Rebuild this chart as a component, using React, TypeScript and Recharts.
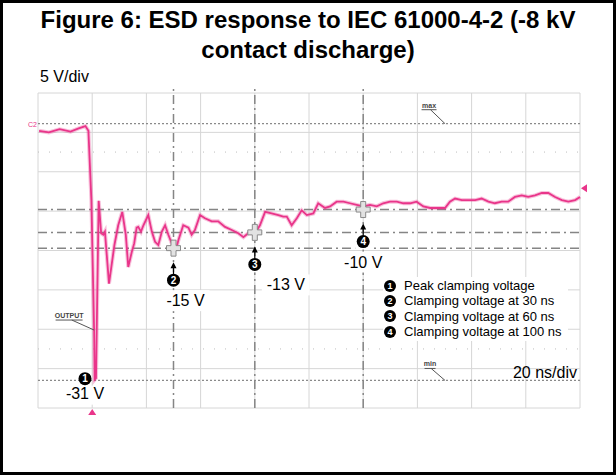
import { LineChart, Line, XAxis, YAxis, CartesianGrid, ReferenceLine, ReferenceDot } from "recharts";

// scope grid: 20 ns/div, 5 V/div
const TIME_TICKS = [-20, 0, 20, 40, 60, 80, 100, 120, 140, 160, 180];
const VOLT_TICKS = [5, 0, -5, -10, -15, -20, -25, -30, -35];

// trace (ns, V)
const TIMES = [
  -19.6, -16, -12, -8, -5, -2.5, -1.4, -0.3, 0.7, 0.9, 1.4, 2.4, 3.3, 4.1, 4.7, 6.2, 8.2, 9.6, 11.1, 12.4,
  13.3, 14.6, 15.5, 16.4, 17.0, 18.0, 18.9, 20.7, 22.0, 23.2, 24.4, 25.7, 26.9, 28.1, 29.6, 31.2, 31.8, 33.6,
  35.5, 36.7, 37.9, 39.8, 41.6, 44.1, 46.5, 49.0, 51.5, 53.9, 55.8, 57.6, 60.1, 61.9, 63.8, 66.2, 68.7, 70.5,
  71.8, 73.6, 75.5, 77.3, 79.2, 81.6, 83.4, 85.9, 87.8, 90.2, 92.7, 95.1, 97.6, 100.0, 102.5, 105.0, 107.4,
  109.9, 112.4, 114.8, 117.3, 119.7, 122.2, 124.7, 127.7, 130.2, 132.0, 133.9, 136.4, 138.8, 141.3, 143.7,
  146.2, 148.6, 151.1, 153.5, 156.0, 158.5, 160.9, 163.4, 165.9, 168.3, 170.8, 173.3, 175.7, 178.2, 180,
];
const VOLTS = [
  0.2, 0.0, 0.4, 0.1, 0.5, 0.8, 0.2, -8.6, -25.1, -31.4, -31.2, -8.7, -12.8, -13.0, -12.6, -19.2, -14.3, -11.8,
  -10.1, -13.0, -17.1, -15.2, -14.1, -12.1, -12.0, -12.6, -11.8, -10.5, -12.6, -13.9, -14.3, -12.6, -11.8,
  -13.0, -14.3, -14.5, -13.7, -11.8, -12.1, -13.0, -12.4, -10.5, -10.9, -11.3, -11.3, -12.0, -12.4, -12.8,
  -13.3, -12.8, -12.8, -11.8, -10.1, -10.3, -10.5, -10.7, -10.7, -11.8, -10.9, -9.9, -10.5, -10.3, -9.0,
  -9.6, -9.4, -8.8, -8.8, -9.0, -9.2, -9.4, -9.2, -9.4, -9.0, -8.8, -8.8, -9.0, -9.0, -8.8, -9.4, -9.6,
  -9.6, -9.6, -8.8, -8.4, -8.6, -8.6, -8.6, -8.4, -8.8, -9.0, -8.8, -8.8, -8.2, -8.0, -8.2, -8.0, -7.7,
  -7.7, -8.2, -8.6, -8.8, -8.6, -8.2,
];

// cursors
const CURSOR_TIMES = [30, 60, 100];
const CURSOR_VOLTS = [-14.7, -12.7, -9.8];
const CURSOR_NUMS = ["2", "3", "4"];
const CURSOR_LABELS = ["-15 V", "-13 V", "-10 V"];
const PEAK_TIME = 0.85;
const PEAK_VOLT = -31.4;
const PEAK_LABEL = "-31 V";

const MAX_LEVEL = 1.1;
const MIN_LEVEL = -31.5;
const TRIG_LEVEL = -7.1;
const OUTPUT_TIME = 0.7;
const OUTPUT_VOLT = -25.1;
const MARK_TIME = 130.2;

const LEGEND_ITEMS = [
  "Peak clamping voltage",
  "Clamping voltage at 30 ns",
  "Clamping voltage at 60 ns",
  "Clamping voltage at 100 ns",
];

const traceData = TIMES.map((t, i) => ({ t, v: VOLTS[i] }));

const FONT = "'Liberation Sans', Arial, sans-serif";
const PINK = "#e9358a";
const CURSOR_GRAY = "#858585";
const LABEL_DX = [12, 31, 0];

const plusPath = (cx: number, cy: number) =>
  `M${cx - 2.5},${cy - 8} H${cx + 2.5} V${cy - 2.5} H${cx + 7} V${cy + 2.5} H${cx + 2.5} V${cy + 8} H${cx - 2.5} V${cy + 2.5} H${cx - 7} V${cy - 2.5} H${cx - 2.5} Z`;

const CursorMark = (props: any) => {
  const { cx, cy, num, label, dx } = props;
  return (
    <g fontFamily={FONT}>
      <rect x={cx + dx - 24} y={cy + 42} width={48} height={21} fill="#fff" />
      <rect x={cx - 8} y={cy + 24} width={16} height={16} fill="#fff" />
      <path d={plusPath(cx, cy)} fill="#e2e2e2" stroke="#8a8a8a" strokeWidth={1} />
      <line x1={cx} y1={cy + 17} x2={cx} y2={cy + 26} stroke="#000" strokeWidth={1.2} />
      <path d={`M${cx - 3},${cy + 20} L${cx},${cy + 14} L${cx + 3},${cy + 20} Z`} fill="#000" />
      <circle cx={cx} cy={cy + 32} r={6.5} fill="#000" />
      <text x={cx} y={cy + 35.5} textAnchor="middle" fill="#fff" fontSize={10} fontWeight="bold">
        {num}
      </text>
      <text x={cx + dx} y={cy + 58} textAnchor="middle" fontSize={16} fill="#000">
        {label}
      </text>
    </g>
  );
};

const PeakMark = (props: any) => {
  const { cx, cy } = props;
  return (
    <g fontFamily={FONT}>
      <rect x={cx - 32} y={cy + 6} width={44} height={19} fill="#fff" />
      <circle cx={cx - 9.5} cy={cy - 1} r={6.5} fill="#000" />
      <text x={cx - 9.5} y={cy + 2.5} textAnchor="middle" fill="#fff" fontSize={10} fontWeight="bold">
        1
      </text>
      <text x={cx - 9.5} y={cy + 19.5} textAnchor="middle" fontSize={16} fill="#000">
        {PEAK_LABEL}
      </text>
    </g>
  );
};

// small underlined scope tag with a leader line to the anchor point
const Tag = (props: any) => {
  const { cx, cy, text, tx, ty, w } = props;
  return (
    <g fontFamily={FONT}>
      <text x={cx + tx} y={cy + ty} fontSize={7} fill="#444" fontWeight="bold" textAnchor="middle">
        {text}
      </text>
      <line x1={cx + tx - w / 2} y1={cy + ty + 2} x2={cx + tx + w / 2} y2={cy + ty + 2} stroke="#555" strokeWidth={1} />
      <line x1={cx + tx + w * 0.1} y1={cy + ty + 2} x2={cx} y2={cy} stroke="#555" strokeWidth={1} />
    </g>
  );
};

const TriangleUp = (props: any) => {
  const { cx, cy } = props;
  return <path d={`M${cx},${cy + 1} L${cx + 4},${cy + 7} L${cx - 4},${cy + 7} Z`} fill={PINK} />;
};

const TriangleLeft = (props: any) => {
  const { cx, cy } = props;
  return <path d={`M${cx + 1},${cy} L${cx + 7},${cy - 4} L${cx + 7},${cy + 4} Z`} fill={PINK} />;
};

export default function App() {
  return (
    <div style={{ position: "absolute", left: 0, top: 0, width: 616, height: 475, background: "#fff", fontFamily: FONT }}>
      <div style={{ position: "absolute", left: 0, top: 0 }}>
        <LineChart width={616} height={475} data={traceData} margin={{ top: 93, right: 36, bottom: 67, left: 38 }}>
          <XAxis dataKey="t" type="number" domain={[-20, 180]} ticks={TIME_TICKS} hide />
          <YAxis type="number" domain={[-35, 5]} ticks={VOLT_TICKS} hide />
          <CartesianGrid stroke="#d6d6d6" strokeWidth={1} />
          <ReferenceLine y={-2.5} stroke="#bdbdbd" strokeDasharray="1 10" />
          <ReferenceLine y={-27.5} stroke="#bdbdbd" strokeDasharray="1 10" />
          <ReferenceLine y={MAX_LEVEL} stroke="#8a8a8a" strokeDasharray="2 2" strokeWidth={1.3} />
          <ReferenceLine y={MIN_LEVEL} stroke="#8a8a8a" strokeDasharray="2 2" strokeWidth={1.3} />
          {CURSOR_VOLTS.map((v) => (
            <ReferenceLine key={`h${v}`} y={v} stroke={CURSOR_GRAY} strokeWidth={1.5} strokeDasharray="9 4 2 4" />
          ))}
          {CURSOR_TIMES.map((t) => (
            <ReferenceLine
              key={`v${t}`}
              segment={[{ x: t, y: -35 }, { x: t, y: 5.6 }]}
              ifOverflow="visible"
              stroke={CURSOR_GRAY}
              strokeWidth={1.5}
              strokeDasharray="9 4 2 4"
            />
          ))}
          <Line dataKey="v" stroke={PINK} strokeOpacity={0.3} strokeWidth={4} dot={false} isAnimationActive={false} />
          <Line dataKey="v" stroke={PINK} strokeWidth={1.8} dot={false} isAnimationActive={false} />
          {CURSOR_TIMES.map((t, i) => (
            <ReferenceDot
              key={`c${t}`}
              x={t}
              y={CURSOR_VOLTS[i]}
              ifOverflow="visible"
              shape={(p: any) => <CursorMark {...p} num={CURSOR_NUMS[i]} label={CURSOR_LABELS[i]} dx={LABEL_DX[i]} />}
            />
          ))}
          <ReferenceDot x={PEAK_TIME} y={PEAK_VOLT} ifOverflow="visible" shape={(p: any) => <PeakMark {...p} />} />
          <ReferenceDot
            x={OUTPUT_TIME}
            y={OUTPUT_VOLT}
            ifOverflow="visible"
            shape={(p: any) => <Tag {...p} text="OUTPUT" tx={-25} ty={-12} w={27} />}
          />
          <ReferenceDot
            x={MARK_TIME}
            y={MAX_LEVEL}
            ifOverflow="visible"
            shape={(p: any) => <Tag {...p} text="max" tx={-16} ty={-16} w={15} />}
          />
          <ReferenceDot
            x={MARK_TIME}
            y={MIN_LEVEL}
            ifOverflow="visible"
            shape={(p: any) => <Tag {...p} text="min" tx={-15} ty={-14} w={11} />}
          />
          <ReferenceDot x={0} y={-35} ifOverflow="visible" shape={(p: any) => <TriangleUp {...p} />} />
          <ReferenceDot x={180} y={TRIG_LEVEL} ifOverflow="visible" shape={(p: any) => <TriangleLeft {...p} />} />
        </LineChart>
      </div>

      <div
        style={{
          position: "absolute",
          left: 0,
          top: 5,
          width: 616,
          textAlign: "center",
          fontWeight: "bold",
          fontSize: 24,
          lineHeight: "30px",
          color: "#000",
        }}
      >
        Figure 6: ESD response to IEC 61000-4-2 (-8 kV
        <br />
        contact discharge)
      </div>
      <div style={{ position: "absolute", left: 40, top: 67, fontSize: 16, lineHeight: "20px" }}>5 V/div</div>
      <div style={{ position: "absolute", left: 28, top: 120, fontSize: 7, color: PINK, lineHeight: "9px" }}>C2</div>
      <div style={{ position: "absolute", left: 500, top: 363, width: 77, textAlign: "right", fontSize: 16, lineHeight: "20px" }}>
        20 ns/div
      </div>

      <div style={{ position: "absolute", left: 383, top: 277, width: 185, background: "#fff", padding: "1px 0 2px" }}>
        {LEGEND_ITEMS.map((item, i) => (
          <div key={item} style={{ display: "flex", alignItems: "center", height: 15.3, fontSize: 13 }}>
            <span
              style={{
                display: "inline-flex",
                alignItems: "center",
                justifyContent: "center",
                width: 12,
                height: 12,
                borderRadius: 6,
                background: "#000",
                color: "#fff",
                fontSize: 9,
                fontWeight: "bold",
                marginLeft: 1,
                marginRight: 8,
              }}
            >
              {i + 1}
            </span>
            {item}
          </div>
        ))}
      </div>

      <div style={{ position: "absolute", left: 0, top: 0, width: 616, height: 475, border: "3px solid #000", boxSizing: "border-box" }} />
    </div>
  );
}
